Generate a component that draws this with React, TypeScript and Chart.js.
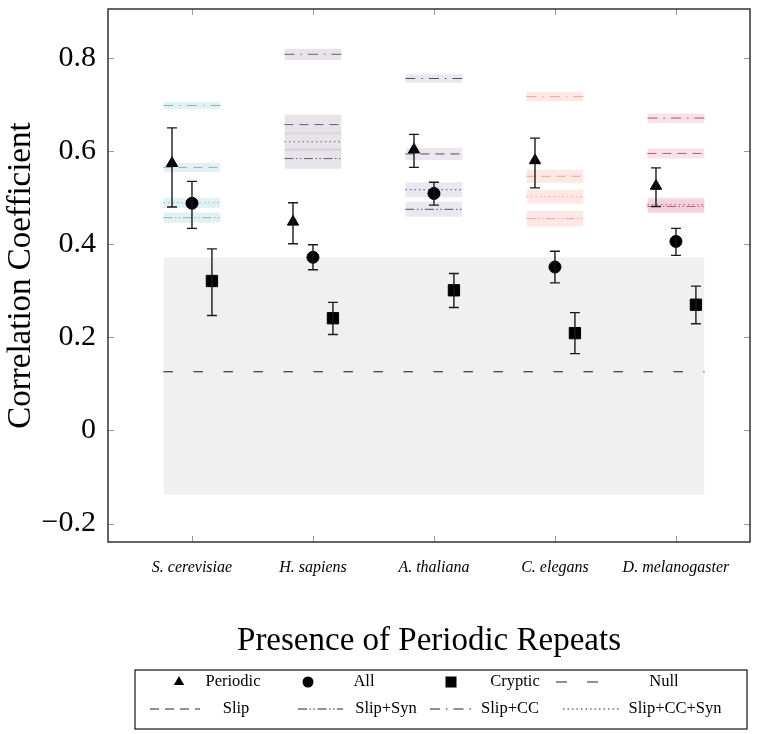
import React, { useEffect, useRef } from "react";
import { Chart, registerables } from "chart.js";

Chart.register(...registerables);

// ---------- data ----------
const species = ["S. cerevisiae", "H. sapiens", "A. thaliana", "C. elegans", "D. melanogaster"];
const speciesPos = [1, 2, 3, 4, 5];

const periodic = [0.574, 0.448, 0.603, 0.58, 0.525];
const periodicLow = [0.48, 0.401, 0.565, 0.521, 0.481];
const periodicHigh = [0.65, 0.489, 0.636, 0.628, 0.564];

const allRepeats = [0.488, 0.372, 0.509, 0.351, 0.406];
const allLow = [0.434, 0.345, 0.484, 0.317, 0.376];
const allHigh = [0.535, 0.399, 0.533, 0.385, 0.434];

const cryptic = [0.321, 0.241, 0.301, 0.209, 0.27];
const crypticLow = [0.247, 0.206, 0.264, 0.165, 0.229];
const crypticHigh = [0.39, 0.275, 0.337, 0.253, 0.31];

const slip = [0.565, 0.657, 0.594, 0.546, 0.595];
const slipErr = [0.01, 0.021, 0.013, 0.014, 0.011];
const slipSyn = [0.457, 0.584, 0.475, 0.455, 0.481];
const slipSynErr = [0.011, 0.022, 0.016, 0.017, 0.015];
const slipCC = [0.698, 0.808, 0.756, 0.717, 0.671];
const slipCCErr = [0.008, 0.012, 0.009, 0.01, 0.01];
const slipCCSyn = [0.489, 0.62, 0.517, 0.502, 0.485];
const slipCCSynErr = [0.011, 0.02, 0.016, 0.015, 0.015];

const nullMean = 0.126;
const nullLow = -0.138;
const nullHigh = 0.372;

const yTicks = [-0.2, 0, 0.2, 0.4, 0.6, 0.8];

// ---------- styles ----------
const FONT = '"Liberation Serif", "Times New Roman", serif';
const lineColors = ["#8cb5bd", "#6b5f6e", "#5b4b6b", "#eea39e", "#b8557a"];
const bandColors = [
  "rgba(201,227,231,0.5)",
  "rgba(205,201,211,0.5)",
  "rgba(215,207,223,0.5)",
  "rgba(251,209,205,0.5)",
  "rgba(241,195,207,0.5)",
];
const HALF = 0.236; // band half width (x units)
const OFF = 0.165; // marker offset (x units)
const X_MIN = 0.306;
const X_MAX = 5.612;
const Y_MIN = -0.2397;
const Y_MAX = 0.9053;

const pointSeries = [
  { name: "Periodic", values: periodic, low: periodicLow, high: periodicHigh, offset: -OFF, style: "triangle", radius: 6.5 },
  { name: "All", values: allRepeats, low: allLow, high: allHigh, offset: 0, style: "circle", radius: 6 },
  { name: "Cryptic", values: cryptic, low: crypticLow, high: crypticHigh, offset: OFF, style: "rect", radius: 8 },
];

const methods = [
  { name: "Slip", values: slip, errs: slipErr, dash: [9, 6] },
  { name: "Slip+Syn", values: slipSyn, errs: slipSynErr, dash: [9, 2.5, 1.5, 2.5, 1.5, 2.5] },
  { name: "Slip+CC", values: slipCC, errs: slipCCErr, dash: [10, 6, 1.5, 6] },
  { name: "Slip+CC+Syn", values: slipCCSyn, errs: slipCCSynErr, dash: [1.5, 3] },
];
const NULL_DASH = [9.5, 20.5];

// ---------- datasets ----------
function buildDatasets() {
  const ds: any[] = [];
  pointSeries.forEach((s) => {
    ds.push({
      type: "line",
      label: s.name,
      data: s.values.map((v, i) => ({ x: speciesPos[i] + s.offset, y: v })),
      showLine: false,
      pointStyle: s.style,
      pointRadius: s.radius,
      pointBackgroundColor: "#000",
      pointBorderColor: "#000",
      pointBorderWidth: 1,
      order: 0,
    });
  });
  ds.push({
    type: "line",
    label: "Null",
    data: [
      { x: speciesPos[0] - HALF, y: nullMean },
      { x: speciesPos[speciesPos.length - 1] + HALF, y: nullMean },
    ],
    borderColor: "#111",
    borderWidth: 1,
    borderDash: NULL_DASH,
    pointRadius: 0,
    fill: false,
    order: 1,
  });
  methods.forEach((m) => {
    m.values.forEach((v, i) => {
      const x0 = speciesPos[i] - HALF;
      const x1 = speciesPos[i] + HALF;
      ds.push({
        type: "line",
        label: m.name,
        data: [{ x: x0, y: v }, { x: x1, y: v }],
        borderColor: lineColors[i],
        borderWidth: 1,
        borderDash: m.dash,
        pointRadius: 0,
        fill: false,
        order: 2,
      });
      ds.push({
        type: "line",
        label: m.name + " band",
        data: [{ x: x0, y: v + m.errs[i] }, { x: x1, y: v + m.errs[i] }],
        borderColor: "rgba(0,0,0,0)",
        borderWidth: 0,
        backgroundColor: bandColors[i],
        fill: { value: v - m.errs[i] },
        pointRadius: 0,
        order: 3,
      });
    });
  });
  ds.push({
    type: "line",
    label: "Null band",
    data: [
      { x: speciesPos[0] - HALF, y: nullHigh },
      { x: speciesPos[speciesPos.length - 1] + HALF, y: nullHigh },
    ],
    borderColor: "rgba(0,0,0,0)",
    borderWidth: 0,
    backgroundColor: "#f0f0f0",
    fill: { value: nullLow },
    pointRadius: 0,
    order: 4,
  });
  return ds;
}

// ---------- plugins ----------
const errorBars = {
  id: "errorBars",
  afterDatasetsDraw(chart: any) {
    const { ctx, scales } = chart;
    const x = scales.x;
    const y = scales.y;
    ctx.save();
    ctx.strokeStyle = "#1a1a1a";
    ctx.lineWidth = 1.4;
    ctx.setLineDash([]);
    pointSeries.forEach((s) => {
      s.values.forEach((_, i) => {
        const px = x.getPixelForValue(speciesPos[i] + s.offset);
        const lo = y.getPixelForValue(s.low[i]);
        const hi = y.getPixelForValue(s.high[i]);
        ctx.beginPath();
        ctx.moveTo(px, lo);
        ctx.lineTo(px, hi);
        ctx.moveTo(px - 5, lo);
        ctx.lineTo(px + 5, lo);
        ctx.moveTo(px - 5, hi);
        ctx.lineTo(px + 5, hi);
        ctx.stroke();
      });
    });
    ctx.restore();
  },
};

function drawMarker(ctx: CanvasRenderingContext2D, kind: string, cx: number, cy: number) {
  ctx.beginPath();
  if (kind === "triangle") {
    const r = 6;
    ctx.moveTo(cx, cy - r);
    ctx.lineTo(cx + r * 0.866, cy + r * 0.5);
    ctx.lineTo(cx - r * 0.866, cy + r * 0.5);
    ctx.closePath();
  } else if (kind === "circle") {
    ctx.arc(cx, cy, 5.5, 0, Math.PI * 2);
  } else {
    ctx.rect(cx - 5.5, cy - 5.5, 11, 11);
  }
  ctx.fill();
}

function drawSample(ctx: CanvasRenderingContext2D, x0: number, x1: number, y: number, dash: number[]) {
  ctx.save();
  ctx.strokeStyle = "#222";
  ctx.lineWidth = 1;
  ctx.setLineDash(dash);
  ctx.beginPath();
  ctx.moveTo(x0, y);
  ctx.lineTo(x1, y);
  ctx.stroke();
  ctx.restore();
}

const frameAndLegend = {
  id: "frameAndLegend",
  afterDraw(chart: any) {
    const { ctx, chartArea: a, scales } = chart;
    ctx.save();
    // tick marks (inward, both sides)
    ctx.strokeStyle = "#9a9a9a";
    ctx.lineWidth = 1;
    const tl = 6;
    yTicks.forEach((v) => {
      const py = Math.round(scales.y.getPixelForValue(v)) + 0.5;
      ctx.beginPath();
      ctx.moveTo(a.left, py);
      ctx.lineTo(a.left + tl, py);
      ctx.moveTo(a.right, py);
      ctx.lineTo(a.right - tl, py);
      ctx.stroke();
    });
    speciesPos.forEach((v) => {
      const px = Math.round(scales.x.getPixelForValue(v)) + 0.5;
      ctx.beginPath();
      ctx.moveTo(px, a.bottom);
      ctx.lineTo(px, a.bottom - tl);
      ctx.moveTo(px, a.top);
      ctx.lineTo(px, a.top + tl);
      ctx.stroke();
    });
    // frame
    ctx.strokeStyle = "#333";
    ctx.lineWidth = 1.5;
    ctx.strokeRect(a.left, a.top, a.right - a.left, a.bottom - a.top);

    // legend
    const box = { x: 135, y: 670, w: 612, h: 59 };
    ctx.strokeStyle = "#111";
    ctx.lineWidth = 1.2;
    ctx.strokeRect(box.x, box.y, box.w, box.h);
    const r1 = 682;
    const r2 = 709;
    ctx.fillStyle = "#000";
    ctx.font = `16.5px ${FONT}`;
    ctx.textAlign = "center";
    ctx.textBaseline = "middle";
    const row1 = [
      { s: pointSeries[0], sx: 179, tx: 233 },
      { s: pointSeries[1], sx: 308, tx: 364 },
      { s: pointSeries[2], sx: 451, tx: 515 },
    ];
    row1.forEach((it) => {
      drawMarker(ctx, it.s.style, it.sx, r1);
      ctx.fillText(it.s.name, it.tx, r1);
    });
    drawSample(ctx, 556, 598, r1, [11, 20]);
    ctx.fillText("Null", 664, r1);
    const row2 = [
      { m: methods[0], x0: 150, x1: 200, tx: 236 },
      { m: methods[1], x0: 298, x1: 343, tx: 386 },
      { m: methods[2], x0: 430, x1: 475, tx: 510 },
      { m: methods[3], x0: 563, x1: 620, tx: 675 },
    ];
    row2.forEach((it) => {
      drawSample(ctx, it.x0, it.x1, r2, it.m.dash);
      ctx.fillText(it.m.name, it.tx, r2);
    });
    ctx.restore();
  },
};

function fmtY(v: number) {
  if (Math.abs(v) < 1e-9) return "0";
  return (v < 0 ? "\u2212" : "") + Math.abs(v).toFixed(1);
}

export default function App() {
  const ref = useRef<HTMLCanvasElement>(null);
  useEffect(() => {
    if (!ref.current) return;
    const chart = new Chart(ref.current, {
      type: "line",
      data: { datasets: buildDatasets() },
      plugins: [errorBars, frameAndLegend],
      options: {
        responsive: false,
        animation: false,
        devicePixelRatio: 1,
        layout: { padding: { top: 5, right: 10, bottom: 73, left: 0 } },
        plugins: { legend: { display: false }, tooltip: { enabled: false } },
        scales: {
          x: {
            type: "linear",
            min: X_MIN,
            max: X_MAX,
            afterBuildTicks: (s: any) => {
              s.ticks = speciesPos.map((v) => ({ value: v }));
            },
            afterFit: (s: any) => {
              s.height = 119;
              s.paddingLeft = 0;
              s.paddingRight = 0;
            },
            grid: { display: false, drawTicks: false },
            border: { display: false },
            ticks: {
              autoSkip: false,
              maxRotation: 0,
              padding: 16,
              color: "#000",
              font: { family: FONT, size: 16, style: "italic" },
              callback: (_v: any, i: number) => species[i],
            },
            title: {
              display: true,
              text: "Presence of Periodic Repeats",
              color: "#000",
              font: { family: FONT, size: 33 },
              padding: { top: 0, bottom: 0 },
            },
          },
          y: {
            type: "linear",
            min: Y_MIN,
            max: Y_MAX,
            afterBuildTicks: (s: any) => {
              s.ticks = yTicks.map((v) => ({ value: v }));
            },
            afterFit: (s: any) => {
              s.width = 108;
              s.paddingTop = 0;
              s.paddingBottom = 0;
            },
            grid: { display: false, drawTicks: false },
            border: { display: false },
            ticks: {
              padding: 12,
              color: "#000",
              font: { family: FONT, size: 30 },
              callback: (v: any) => fmtY(Number(v)),
            },
            title: {
              display: true,
              text: "Correlation Coefficient",
              color: "#000",
              font: { family: FONT, size: 33 },
              padding: { top: 2, bottom: 0 },
            },
          },
        },
      } as any,
    });
    return () => chart.destroy();
  }, []);
  return (
    <div style={{ position: "absolute", left: 0, top: 0, width: 760, height: 734, background: "#fff" }}>
      <canvas ref={ref} width={760} height={734} style={{ display: "block", width: 760, height: 734 }} />
    </div>
  );
}
